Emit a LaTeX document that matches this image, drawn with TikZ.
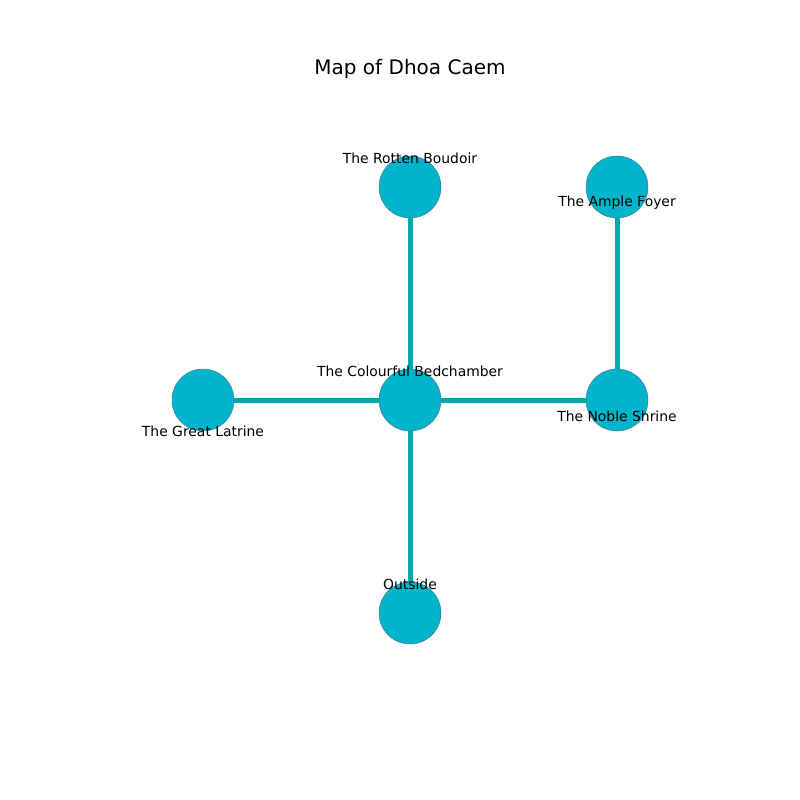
\documentclass[tikz,border=0pt]{standalone}
\usepackage{fontspec}
\setmainfont{DejaVu Sans}
\definecolor{nodefill}{RGB}{0,180,204}
\definecolor{nodeedge}{RGB}{60,130,150}
\definecolor{edgecol}{RGB}{0,170,170}
\begin{document}
\begin{tikzpicture}[x=1pt,y=-1pt,
  room/.style={circle,fill=nodefill,draw=nodeedge,line width=0.5pt,minimum size=62pt,inner sep=0pt},
  link/.style={draw=edgecol,line width=5pt},
  lbl/.style={font=\fontsize{13.9}{16}\selectfont,inner sep=0pt,anchor=center}]
\useasboundingbox (0,0) rectangle (800,800);
\fill[white] (0,0) rectangle (800,800);
\node[font=\fontsize{20}{24}\selectfont,inner sep=0pt] (title) at (410,69) {Map of Dhoa Caem};
\coordinate (rb) at (410,187);
\coordinate (af) at (617,187);
\coordinate (cb) at (410,400);
\coordinate (gl) at (203,400);
\coordinate (ns) at (617,400);
\coordinate (os) at (410,613);
\draw[link] (rb) -- (cb);
\draw[link] (af) -- (ns);
\draw[link] (gl) -- (cb);
\draw[link] (cb) -- (ns);
\draw[link] (cb) -- (os);
\node[room] (nrb) at (rb) {};
\node[room] (naf) at (af) {};
\node[room] (ncb) at (cb) {};
\node[room] (ngl) at (gl) {};
\node[room] (nns) at (ns) {};
\node[room] (nos) at (os) {};
\node[lbl] (lrb) at (410,158) {The Rotten Boudoir};
\node[lbl] (laf) at (617,203) {The Ample Foyer};
\node[lbl] (lcb) at (410,371) {The Colourful Bedchamber};
\node[lbl] (lgl) at (203,431) {The Great Latrine};
\node[lbl] (lns) at (617,416) {The Noble Shrine};
\node[lbl] (los) at (410,584) {Outside};
\end{tikzpicture}
\end{document}
